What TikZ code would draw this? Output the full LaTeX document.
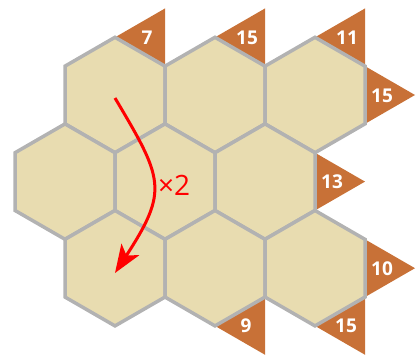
\documentclass[tikz,border=0pt]{standalone}
\usepackage{fontspec}
\setmainfont{Open Sans}
\usetikzlibrary{arrows.meta}
\definecolor{hexfill}{RGB}{232,220,176}
\definecolor{hexline}{RGB}{178,178,178}
\definecolor{tri}{RGB}{200,113,55}
\tikzset{
  hexstyle/.style={fill=hexfill,draw=hexline,line width=3.5pt,line join=miter},
  tristyle/.style={fill=tri},
  numlabel/.style={text=white,font=\fontsize{19}{19}\selectfont\bfseries,inner sep=0pt},
  arrowstyle/.style={draw=red,line width=3pt,-{Stealth[length=28pt,width=21pt,inset=7pt]}}
}
\newcommand\hexcell[2]{%
  \draw[hexstyle] (#1,#2) ++(0,-57.7) -- ++(50,28.85) -- ++(0,57.7) -- ++(-50,28.85) -- ++(-50,-28.85) -- ++(0,-57.7) -- cycle;}
\begin{document}
\begin{tikzpicture}[x=1pt,y=-1pt]
\useasboundingbox (0,0) rectangle (417,356);
% triangles
\fill[tristyle] (115,37.3) -- (165,66.15) -- (165,8.45) -- cycle;
\fill[tristyle] (215,37.3) -- (265,66.15) -- (265,8.45) -- cycle;
\fill[tristyle] (315,37.3) -- (365,66.15) -- (365,8.45) -- cycle;
\fill[tristyle] (365,66.15) -- (365,123.85) -- (415,95) -- cycle;
\fill[tristyle] (315,152.75) -- (315,210.45) -- (365,181.6) -- cycle;
\fill[tristyle] (365,239.35) -- (365,297.05) -- (415,268.2) -- cycle;
\fill[tristyle] (365,297.05) -- (315,325.9) -- (365,354.75) -- cycle;
\fill[tristyle] (265,297.05) -- (215,325.9) -- (265,354.75) -- cycle;
% hexagons
\hexcell{115}{95}
\hexcell{215}{95}
\hexcell{315}{95}
\hexcell{65}{181.6}
\hexcell{165}{181.6}
\hexcell{265}{181.6}
\hexcell{115}{268.2}
\hexcell{215}{268.2}
\hexcell{315}{268.2}
% labels
\node[numlabel] (l7) at (147,38) {7};
\node[numlabel] (l15a) at (247,38) {15};
\node[numlabel] (l11) at (347,38) {11};
\node[numlabel] (l15b) at (382,96) {15};
\node[numlabel] (l13) at (332,182) {13};
\node[numlabel] (l10) at (382,269) {10};
\node[numlabel] (l15c) at (346,326) {15};
\node[numlabel] (l9) at (246,326) {9};
% arrow
\coordinate (s) at (115,98);
\coordinate (e) at (115,273);
\draw[arrowstyle] (s) .. controls (163,179) and (169,190) .. (e);
\node[text=red,font=\fontsize{28}{28}\selectfont,inner sep=0pt,anchor=west] (times) at (158,185) {×2};
\end{tikzpicture}
\end{document}
